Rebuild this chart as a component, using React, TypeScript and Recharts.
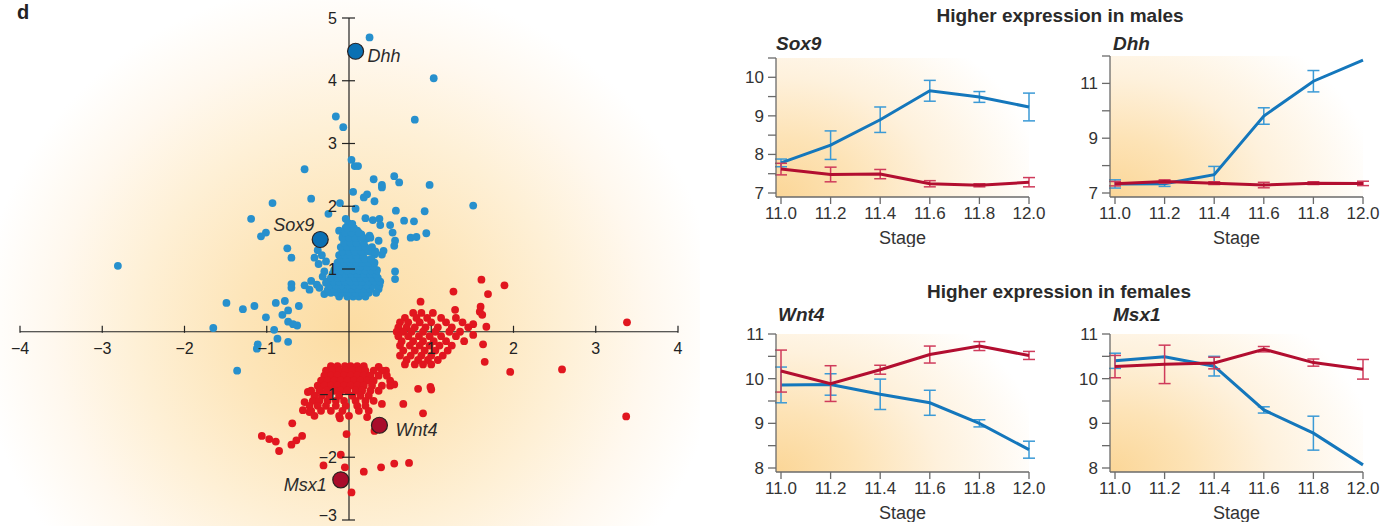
import React from 'react';
import {
  ScatterChart, Scatter, XAxis, YAxis, ReferenceLine,
  LineChart, Line, ErrorBar,
} from 'recharts';

// ---------- Scatter data (x, y) ----------
const blueOuter: number[][] = [
  [0.25, 4.69], [1.03, 4.04], [-0.16, 3.43], [-0.07, 3.26], [0.8, 3.38], [0.03, 2.74], [0.07, 2.64], [0.11, 2.64],
  [-0.54, 2.59], [0.3, 2.43], [0.4, 2.34], [0.4, 2.3], [0.55, 2.48], [0.61, 2.38], [0.98, 2.34], [-0.46, 2.12],
  [-0.93, 2.05], [0.05, 2.23], [0.18, 2.14], [0.22, 2.19], [0.31, 2.08], [-0.11, 2.05], [0.08, 1.96], [0.57, 1.93],
  [0.92, 1.92], [1.51, 2.01], [-1.19, 1.8], [-1.01, 1.58], [-1.07, 1.52], [-0.25, 1.88], [-0.04, 1.8], [-0.01, 1.73],
  [0.2, 1.81], [0.29, 1.78], [0.37, 1.8], [0.38, 1.7], [0.67, 1.77], [0.79, 1.76], [0.5, 1.7], [0.53, 1.58],
  [0.56, 1.45], [0.55, 1.37], [0.75, 1.5], [0.82, 1.51], [0.94, 1.57], [-0.12, 1.61], [-0.04, 1.66], [-0.07, 1.55],
  [0.1, 1.61], [0.15, 1.55], [0.22, 1.49], [0.25, 1.53], [0.36, 1.45], [0.26, 1.31], [0.31, 1.23], [0.4, 1.23],
  [0.42, 1.29], [-0.75, 1.33], [-0.7, 1.18], [0.56, 0.96], [0.56, 0.84], [-0.54, 0.74], [-0.48, 0.67], [-0.7, 0.76],
  [-0.7, 0.7], [-0.46, 0.81], [-0.39, 0.75], [-0.36, 0.7], [-0.3, 0.6], [-1.49, 0.46], [-1.29, 0.36], [-1.15, 0.41],
  [-0.89, 0.46], [-0.78, 0.49], [-0.74, 0.34], [-0.61, 0.41], [-1.01, 0.23], [-0.81, 0.27], [-0.74, 0.16], [-0.68, 0.12],
  [-0.63, 0.1], [-0.91, 0.03], [-1.65, 0.06], [-2.81, 1.05], [-0.87, -0.11], [-0.74, -0.16], [-1.11, -0.2], [-1.12, -0.27],
  [-1.36, -0.62], [-0.38, 1.3], [-0.42, 1.18], [-0.33, 1.22], [-0.28, 1.12], [-0.37, 1.08], [-0.32, 0.88], [-0.28, 0.78],
  [-0.3, 0.96], [-0.26, 0.66],
];

const blueCluster: number[][] = [
  [-0.12, 0.56], [-0.02, 0.56], [0.05, 0.56], [0.12, 0.56], [0.2, 0.56],
  [-0.22, 0.62], [-0.15, 0.62], [-0.08, 0.62], [0.0, 0.62], [0.08, 0.62], [0.16, 0.62], [0.24, 0.62], [0.33, 0.62],
  [-0.25, 0.68], [-0.18, 0.68], [-0.1, 0.68], [-0.03, 0.68], [0.04, 0.68], [0.11, 0.68], [0.18, 0.68], [0.26, 0.68], [0.36, 0.68],
  [-0.24, 0.74], [-0.16, 0.74], [-0.09, 0.74], [-0.01, 0.74], [0.06, 0.74], [0.13, 0.74], [0.21, 0.74], [0.29, 0.74], [0.37, 0.74],
  [-0.26, 0.8], [-0.19, 0.8], [-0.12, 0.8], [-0.05, 0.8], [0.02, 0.8], [0.09, 0.8], [0.16, 0.8], [0.24, 0.8], [0.31, 0.8], [0.38, 0.8],
  [-0.22, 0.86], [-0.14, 0.86], [-0.07, 0.86], [0.0, 0.86], [0.07, 0.86], [0.14, 0.86], [0.21, 0.86], [0.28, 0.86], [0.35, 0.86],
  [-0.2, 0.92], [-0.12, 0.92], [-0.04, 0.92], [0.03, 0.92], [0.1, 0.92], [0.18, 0.92], [0.26, 0.92], [0.33, 0.92],
  [-0.18, 0.98], [-0.1, 0.98], [-0.02, 0.98], [0.05, 0.98], [0.12, 0.98], [0.2, 0.98], [0.27, 0.98], [0.34, 0.98],
  [-0.16, 1.04], [-0.08, 1.04], [0.0, 1.04], [0.07, 1.04], [0.14, 1.04], [0.22, 1.04], [0.3, 1.04],
  [-0.14, 1.1], [-0.06, 1.1], [0.02, 1.1], [0.09, 1.1], [0.16, 1.1], [0.24, 1.1], [0.31, 1.1],
  [-0.1, 1.16], [-0.03, 1.16], [0.04, 1.16], [0.11, 1.16], [0.19, 1.16], [0.27, 1.16],
  [-0.12, 1.22], [-0.05, 1.22], [0.02, 1.22], [0.09, 1.22], [0.17, 1.22],
  [-0.08, 1.28], [0.0, 1.28], [0.07, 1.28], [0.15, 1.28], [0.24, 1.28], [0.32, 1.28],
  [-0.1, 1.35], [-0.02, 1.35], [0.05, 1.35], [0.12, 1.35], [0.2, 1.35], [0.28, 1.35],
  [-0.06, 1.42], [0.02, 1.42], [0.09, 1.42], [0.18, 1.42],
  [-0.08, 1.5], [0.0, 1.5], [0.08, 1.5], [0.15, 1.5], [0.26, 1.5],
  [-0.05, 1.58], [0.03, 1.58], [0.12, 1.58],
  [-0.02, 1.65], [0.06, 1.65], [0.04, 1.72],
];

const redOuter: number[][] = [
  [3.38, 0.15], [3.37, -1.35], [2.59, -0.6], [1.96, -0.64], [1.89, 0.74], [1.61, 0.83], [1.69, 0.6], [1.27, 0.64],
  [0.87, 0.48], [1.6, 0.4], [1.59, 0.32], [1.62, 0.27], [1.29, 0.35], [1.67, 0.08], [1.51, 0.12], [1.63, -0.2],
  [1.65, -0.48], [1.51, -0.05], [0.84, -0.91], [0.99, -0.88], [1.0, -0.92], [0.66, -1.15], [0.9, -1.3], [0.4, -1.15],
  [0.22, -1.36], [0.31, -1.58], [-0.03, -1.63], [-0.69, -1.46], [-0.57, -1.66], [-0.64, -1.73], [-0.7, -1.8],
  [-1.06, -1.66], [-0.97, -1.71], [-0.89, -1.75], [-0.85, -1.9], [-0.1, -1.96], [-0.31, -2.13], [-0.05, -2.16],
  [0.18, -2.23], [0.39, -2.16], [0.55, -2.1], [0.73, -2.09], [0.03, -2.56], [0.55, -0.84], [0.5, -0.78],
  [0.45, -0.62], [0.36, -0.56], [-0.5, -0.96], [-0.54, -1.12], [-0.56, -1.25], [-0.48, -1.28], [-0.11, -1.38],
];

const redRightCluster: number[][] = [
  [0.78, 0.3], [0.88, 0.3], [1.02, 0.3],
  [0.68, 0.22], [0.82, 0.22], [0.95, 0.22], [1.12, 0.22], [1.3, 0.22],
  [0.62, 0.15], [0.72, 0.15], [0.86, 0.15], [1.0, 0.15], [1.18, 0.15], [1.38, 0.15],
  [0.6, 0.07], [0.7, 0.07], [0.8, 0.07], [0.93, 0.07], [1.08, 0.07], [1.25, 0.07], [1.45, 0.07],
  [0.58, 0.0], [0.66, 0.0], [0.76, 0.0], [0.9, 0.0], [1.05, 0.0], [1.22, 0.0], [1.35, 0.0],
  [0.6, -0.07], [0.72, -0.07], [0.85, -0.07], [0.98, -0.07], [1.12, -0.07], [1.3, -0.07],
  [0.64, -0.15], [0.78, -0.15], [0.9, -0.15], [1.03, -0.15], [1.18, -0.15], [1.4, -0.15],
  [0.62, -0.22], [0.74, -0.22], [0.86, -0.22], [0.98, -0.22], [1.1, -0.22], [1.25, -0.22],
  [0.66, -0.3], [0.8, -0.3], [0.92, -0.3], [1.05, -0.3], [1.2, -0.3],
  [0.62, -0.38], [0.75, -0.38], [0.88, -0.38], [1.0, -0.38], [1.14, -0.38],
  [0.7, -0.45], [0.84, -0.45], [0.96, -0.45], [1.08, -0.45],
  [0.68, -0.52], [0.8, -0.52], [0.9, -0.52], [1.0, -0.52],
];

const redLowerCluster: number[][] = [
  [-0.22, -0.55], [-0.14, -0.55], [-0.05, -0.55], [0.02, -0.55], [0.1, -0.55], [0.18, -0.55],
  [-0.28, -0.62], [-0.2, -0.62], [-0.12, -0.62], [-0.04, -0.62], [0.04, -0.62], [0.12, -0.62], [0.2, -0.62], [0.3, -0.62], [0.4, -0.62],
  [-0.3, -0.7], [-0.22, -0.7], [-0.14, -0.7], [-0.06, -0.7], [0.02, -0.7], [0.1, -0.7], [0.18, -0.7], [0.26, -0.7], [0.36, -0.7], [0.46, -0.7],
  [-0.34, -0.78], [-0.26, -0.78], [-0.18, -0.78], [-0.1, -0.78], [-0.02, -0.78], [0.06, -0.78], [0.14, -0.78], [0.22, -0.78], [0.3, -0.78],
  [-0.38, -0.86], [-0.3, -0.86], [-0.22, -0.86], [-0.14, -0.86], [-0.06, -0.86], [0.02, -0.86], [0.1, -0.86], [0.18, -0.86], [0.28, -0.86], [0.4, -0.86], [0.5, -0.86],
  [-0.46, -0.94], [-0.36, -0.94], [-0.27, -0.94], [-0.18, -0.94], [-0.1, -0.94], [-0.02, -0.94], [0.08, -0.94], [0.16, -0.94], [0.26, -0.94], [0.36, -0.94],
  [-0.42, -1.02], [-0.33, -1.02], [-0.24, -1.02], [-0.12, -1.02], [0.04, -1.02], [0.14, -1.02], [0.24, -1.02],
  [-0.44, -1.1], [-0.36, -1.1], [-0.26, -1.1], [-0.16, -1.1], [-0.06, -1.1], [0.08, -1.1], [0.2, -1.1], [0.3, -1.1],
  [-0.48, -1.18], [-0.38, -1.18], [-0.28, -1.18], [-0.16, -1.18], [-0.04, -1.18], [0.1, -1.18], [0.2, -1.18],
  [-0.46, -1.26], [-0.34, -1.26], [-0.22, -1.26], [-0.08, -1.26], [0.12, -1.26], [0.24, -1.26],
  [-0.42, -1.34], [-0.12, -1.34], [0.0, -1.34],
];

const maleGenes = [
  { name: 'Dhh', x: 0.08, y: 4.47 },
  { name: 'Sox9', x: -0.35, y: 1.47 },
];
const femaleGenes = [
  { name: 'Wnt4', x: 0.37, y: -1.49 },
  { name: 'Msx1', x: -0.1, y: -2.36 },
];

const scatterXTicks = [-4, -3, -2, -1, 1, 2, 3, 4];
const scatterYTicks = [5, 4, 3, 2, 1, -1, -2, -3];

// ---------- Line panel data ----------
const stages = [11.0, 11.2, 11.4, 11.6, 11.8, 12.0];

const sox9Male = [7.78, 8.24, 8.9, 9.65, 9.49, 9.23];
const sox9MaleErr = [0.1, 0.37, 0.33, 0.27, 0.14, 0.36];
const sox9Female = [7.62, 7.48, 7.49, 7.24, 7.2, 7.28];
const sox9FemaleErr = [0.15, 0.19, 0.12, 0.08, 0.04, 0.12];

const dhhMale = [7.33, 7.34, 7.67, 9.81, 11.08, 11.85];
const dhhMaleErr = [0.15, 0.1, 0.3, 0.3, 0.39, 0];
const dhhFemale = [7.34, 7.42, 7.36, 7.29, 7.36, 7.35];
const dhhFemaleErr = [0.08, 0.06, 0.05, 0.1, 0.05, 0.08];

const wnt4Male = [9.86, 9.87, 9.65, 9.46, 9.0, 8.41];
const wnt4MaleErr = [0.4, 0.24, 0.34, 0.28, 0.08, 0.19];
const wnt4Female = [10.17, 9.89, 10.2, 10.54, 10.73, 10.52];
const wnt4FemaleErr = [0.47, 0.4, 0.1, 0.19, 0.1, 0.09];

const msx1Male = [10.4, 10.49, 10.28, 9.3, 8.78, 8.07];
const msx1MaleErr = [0.17, 0, 0.22, 0.07, 0.38, 0];
const msx1Female = [10.27, 10.32, 10.35, 10.66, 10.36, 10.21];
const msx1FemaleErr = [0.25, 0.43, 0.13, 0.06, 0.08, 0.22];

const sox9Ticks = [7, 7.5, 8, 8.5, 9, 9.5, 10, 10.5];
const dhhTicks = [7, 8, 9, 10, 11, 12];
const femTicks = [8, 8.5, 9, 9.5, 10, 10.5, 11];

// ---------- helpers ----------
const FONT = '"Liberation Sans", Arial, Helvetica, sans-serif';
const toPts = (arr: number[][]) => arr.map(([x, y]) => ({ x, y }));
const rows = (m: number[], me: number[], f: number[], fe: number[]) =>
  stages.map((s, i) => ({ stage: s, male: m[i], maleErr: me[i], female: f[i], femaleErr: fe[i] }));

const SmallDot = (color: string) => (p: any) =>
  p.cx == null ? null : <circle cx={p.cx} cy={p.cy} r={3.9} fill={color} />;

const labelStyle: Record<string, { dx: number; dy: number; anchor: 'start' | 'end' }> = {
  Dhh: { dx: 12, dy: 11, anchor: 'start' },
  Sox9: { dx: -6, dy: -9, anchor: 'end' },
  Wnt4: { dx: 16, dy: 10.5, anchor: 'start' },
  Msx1: { dx: -14, dy: 11, anchor: 'end' },
};

const BigDot = (color: string) => (p: any) => {
  if (p.cx == null) return null;
  const s = labelStyle[p.payload.name];
  return (
    <g>
      <circle cx={p.cx} cy={p.cy} r={8} fill={color} stroke="#2a2020" strokeWidth={1.2} />
      <text x={p.cx + s.dx} y={p.cy + s.dy} textAnchor={s.anchor} fontSize={18} fontStyle="italic" fill="#2b2b2b">
        {p.payload.name}
      </text>
    </g>
  );
};

const fmtMinus = (v: number) => (v < 0 ? '\u2212' + Math.abs(v) : String(v));

const XTickMark = (p: any) =>
  p.cx == null ? null : (
    <g>
      <line x1={p.cx} x2={p.cx} y1={p.cy - 6} y2={p.cy + 1} stroke="#222" strokeWidth={1.2} />
      <text x={p.cx} y={p.cy + 22} textAnchor="middle" fontSize={16} fill="#222">{fmtMinus(p.payload.x)}</text>
    </g>
  );

const YTickMark = (p: any) =>
  p.cx == null ? null : (
    <g>
      <line x1={p.cx - 7} x2={p.cx + 6} y1={p.cy} y2={p.cy} stroke="#222" strokeWidth={1.2} />
      <text x={p.cx - 12} y={Math.min(p.cy + 5.5, 521)} textAnchor="end" fontSize={16} fill="#222">{fmtMinus(p.payload.y)}</text>
    </g>
  );

const BLUE_DOT = '#2790cd';
const RED_DOT = '#e1161f';
const BLUE_LINE = '#1477bc';
const RED_LINE = '#b20e30';
const BLUE_ERR = '#3b9ad6';
const RED_ERR = '#cf3b5b';
const AXIS = '#6a6a6a';

function ScatterPanel() {
  return (
    <div style={{ position: 'absolute', left: 0, top: 0, width: 700, height: 526 }}>
      <div
        style={{
          position: 'absolute', left: 0, top: 0, width: 700, height: 526,
          background:
            'radial-gradient(ellipse 370px 350px at 350px 330px, #fcdca2 0%, #fde5b9 30%, #fef0d6 58%, #fff8ee 80%, #ffffff 100%)',
        }}
      />
      <div style={{ position: 'absolute', left: 0, top: 0 }}>
        <ScatterChart width={700} height={526} margin={{ top: 18, right: 22, bottom: 6, left: 20 }}>
          <XAxis type="number" dataKey="x" domain={[-4, 4]} hide />
          <YAxis type="number" dataKey="y" domain={[-3, 5]} hide />
          <Scatter data={toPts(blueOuter)} shape={SmallDot(BLUE_DOT)} isAnimationActive={false} />
          <Scatter data={toPts(blueCluster)} shape={SmallDot(BLUE_DOT)} isAnimationActive={false} />
          <Scatter data={toPts(redOuter)} shape={SmallDot(RED_DOT)} isAnimationActive={false} />
          <Scatter data={toPts(redRightCluster)} shape={SmallDot(RED_DOT)} isAnimationActive={false} />
          <Scatter data={toPts(redLowerCluster)} shape={SmallDot(RED_DOT)} isAnimationActive={false} />
          <ReferenceLine x={0} stroke="#222" strokeWidth={1.2} />
          <ReferenceLine y={0} stroke="#222" strokeWidth={1.2} />
          <Scatter data={scatterXTicks.map((x) => ({ x, y: 0 }))} shape={XTickMark} isAnimationActive={false} />
          <Scatter data={scatterYTicks.map((y) => ({ x: 0, y }))} shape={YTickMark} isAnimationActive={false} />
          <Scatter data={maleGenes} shape={BigDot('#0a70b3')} isAnimationActive={false} />
          <Scatter data={femaleGenes} shape={BigDot('#a90c2b')} isAnimationActive={false} />
        </ScatterChart>
      </div>
    </div>
  );
}

type PanelProps = {
  left: number; top: number; plotTop: number; plotBottom: number;
  data: any[]; domain: [number, number]; ticks: number[]; labelTicks: number[];
};

function LinePanel({ left, top, plotTop, plotBottom, data, domain, ticks, labelTicks }: PanelProps) {
  const W = 330;
  const mTop = plotTop - top;
  const H = plotBottom - top + 50;
  return (
    <div style={{ position: 'absolute', left, top, width: W, height: H }}>
      <div
        style={{
          position: 'absolute', left: 50, top: mTop, width: 253, height: plotBottom - plotTop,
          background:
            'radial-gradient(ellipse 270px 200px at 0% 100%, #fbd697 0%, #fde3b6 30%, #fef1dc 60%, rgba(255,255,255,0) 100%)',
        }}
      />
      <div style={{ position: 'absolute', left: 0, top: 0 }}>
        <LineChart width={W} height={H} data={data} margin={{ top: mTop, right: 27, bottom: 0, left: 20 }}>
          <XAxis
            dataKey="stage" type="number" domain={[11, 12]} ticks={stages}
            tickFormatter={(v: number) => v.toFixed(1)} padding={{ left: 5, right: 0 }}
            stroke={AXIS} strokeWidth={1.3} tickSize={7} tickMargin={3} height={50}
            tick={{ fill: '#333', fontSize: 17 }}
            label={{ value: 'Stage', position: 'insideBottom', offset: 3, fill: '#333', fontSize: 18 }}
          />
          <YAxis
            type="number" domain={domain} ticks={ticks} width={30} padding={{ top: 0, bottom: 4 }}
            tickFormatter={(v: number) => (labelTicks.includes(v) ? String(v) : '')}
            stroke={AXIS} strokeWidth={1.3} tickSize={8} tickMargin={4}
            tick={{ fill: '#333', fontSize: 17 }} allowDataOverflow
          />
          <Line dataKey="male" stroke={BLUE_LINE} strokeWidth={3} dot={false} isAnimationActive={false}>
            <ErrorBar dataKey="maleErr" direction="y" width={6} stroke={BLUE_ERR} strokeWidth={1.5} />
          </Line>
          <Line dataKey="female" stroke={RED_LINE} strokeWidth={3} dot={false} isAnimationActive={false}>
            <ErrorBar dataKey="femaleErr" direction="y" width={6} stroke={RED_ERR} strokeWidth={1.5} />
          </Line>
        </LineChart>
      </div>
    </div>
  );
}

export default function App() {
  return (
    <div style={{ position: 'absolute', left: 0, top: 0, width: 1396, height: 526, background: '#fff', fontFamily: FONT, overflow: 'hidden' }}>
      <ScatterPanel />
      <LinePanel left={726} top={40} plotTop={58} plotBottom={197} data={rows(sox9Male, sox9MaleErr, sox9Female, sox9FemaleErr)}
        domain={[7, 10.5]} ticks={sox9Ticks} labelTicks={[7, 8, 9, 10]} />
      <LinePanel left={1060} top={38} plotTop={56} plotBottom={197} data={rows(dhhMale, dhhMaleErr, dhhFemale, dhhFemaleErr)}
        domain={[7, 12]} ticks={dhhTicks} labelTicks={[7, 9, 11]} />
      <LinePanel left={726} top={316} plotTop={334} plotBottom={472} data={rows(wnt4Male, wnt4MaleErr, wnt4Female, wnt4FemaleErr)}
        domain={[8, 11]} ticks={femTicks} labelTicks={[8, 9, 10, 11]} />
      <LinePanel left={1060} top={316} plotTop={334} plotBottom={472} data={rows(msx1Male, msx1MaleErr, msx1Female, msx1FemaleErr)}
        domain={[8, 11]} ticks={femTicks} labelTicks={[8, 9, 10, 11]} />
      <svg width={1396} height={526} style={{ position: 'absolute', left: 0, top: 0, pointerEvents: 'none' }}>
        <text x={17} y={18.5} fontSize={20} fontWeight="bold" fill="#222">d</text>
        <text x={1060} y={21.7} fontSize={19} fontWeight="bold" textAnchor="middle" fill="#2a2a2a">Higher expression in males</text>
        <text x={776} y={50} fontSize={19} fontWeight="bold" fontStyle="italic" fill="#2a2a2a">Sox9</text>
        <text x={1113} y={50} fontSize={19} fontWeight="bold" fontStyle="italic" fill="#2a2a2a">Dhh</text>
        <text x={1059} y={298.3} fontSize={19} fontWeight="bold" textAnchor="middle" fill="#2a2a2a">Higher expression in females</text>
        <text x={778} y={321} fontSize={19} fontWeight="bold" fontStyle="italic" fill="#2a2a2a">Wnt4</text>
        <text x={1113} y={321} fontSize={19} fontWeight="bold" fontStyle="italic" fill="#2a2a2a">Msx1</text>
      </svg>
    </div>
  );
}
